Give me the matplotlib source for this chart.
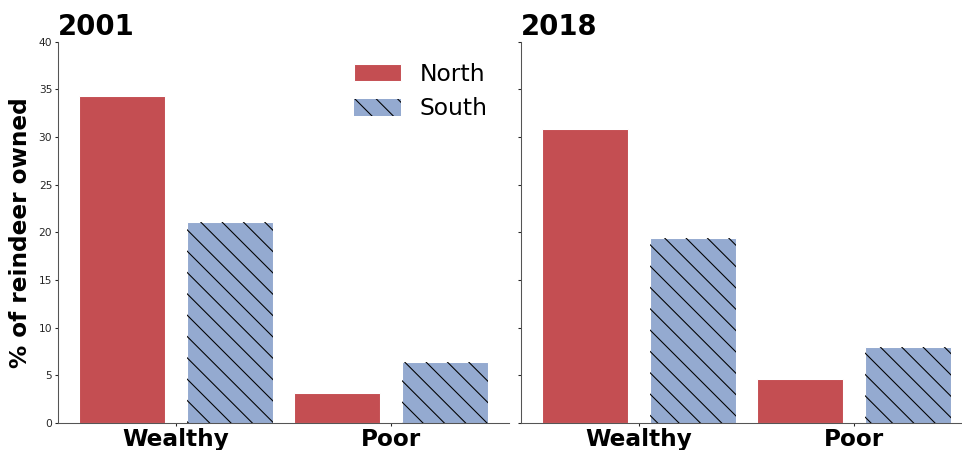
import matplotlib
matplotlib.use("Agg")
import matplotlib.pyplot as plt
from matplotlib.patches import Patch
import numpy as np

# Share of reindeer owned, by wealth group and region
years = ["2001", "2018"]
groups = ["Wealthy", "Poor"]
regions = ["North", "South"]
north_2001 = [34.3, 3.1]
south_2001 = [21.05, 6.35]
north_2018 = [30.8, 4.65]
south_2018 = [19.4, 8.0]
yticks = [0, 5, 10, 15, 20, 25, 30, 35, 40]

north_color = "#C44E52"
south_color = "#94AAD0"

plt.rcParams["font.family"] = ["DejaVu Sans"]
plt.rcParams["hatch.linewidth"] = 0.6
plt.rcParams["hatch.color"] = "black"

DPI = 128
fig = plt.figure(figsize=(962 / DPI, 450 / DPI), dpi=DPI)

ax_w = 451 / 962
ax_h = 381.5 / 450
bottom = 27 / 450
ax1 = fig.add_axes([58 / 962, bottom, ax_w, ax_h])
ax2 = fig.add_axes([521 / 962, bottom, ax_w, ax_h])

data = {"2001": (north_2001, south_2001), "2018": (north_2018, south_2018)}
x = np.arange(len(groups))
bw = 0.4
off = 0.25
hatch = "\\\\"

for ax, year in zip([ax1, ax2], years):
    north, south = data[year]
    ax.bar(x - off, north, width=bw, color=north_color, edgecolor="white",
           linewidth=0.6, zorder=2)
    ax.bar(x + off, south, width=bw, color=south_color, edgecolor="white",
           linewidth=0.6, zorder=2)
    # hatch overlay for the southern region
    ax.bar(x + off, south, width=bw, facecolor="none", edgecolor="black",
           linewidth=0, hatch=hatch, zorder=3)
    ax.set_xlim(-0.55, 1.55)
    ax.set_ylim(0, 40)
    ax.set_yticks(yticks)
    ax.set_xticks(x)
    ax.set_xticklabels(groups, fontsize=13, fontweight="bold")
    ax.tick_params(axis="y", labelsize=6, length=1.5, width=0.6, pad=1.8,
                   colors="#262626")
    ax.tick_params(axis="x", length=1.5, width=0.6, pad=1.5, colors="#262626",
                   labelcolor="black")
    for s in ["top", "right"]:
        ax.spines[s].set_visible(False)
    for s in ["left", "bottom"]:
        ax.spines[s].set_linewidth(0.6)
        ax.spines[s].set_color("#555555")
    ax.set_title(year, loc="left", fontsize=15.5, fontweight="bold", pad=3.5)

ax2.tick_params(axis="y", labelleft=False)
ax1.set_ylabel("% of reindeer owned", fontsize=13, fontweight="bold")
ax1.yaxis.set_label_coords(-0.057, 0.5)

handles = [
    Patch(facecolor=north_color, edgecolor="white", linewidth=0.6),
    Patch(facecolor=south_color, edgecolor="black", linewidth=0, hatch=hatch),
]
ax1.legend(handles, regions, loc="upper right", frameon=False, fontsize=13.2,
           handlelength=2.0, handleheight=0.75, labelspacing=0.5,
           handletextpad=0.8)

fig.savefig("out.png", dpi=DPI)
